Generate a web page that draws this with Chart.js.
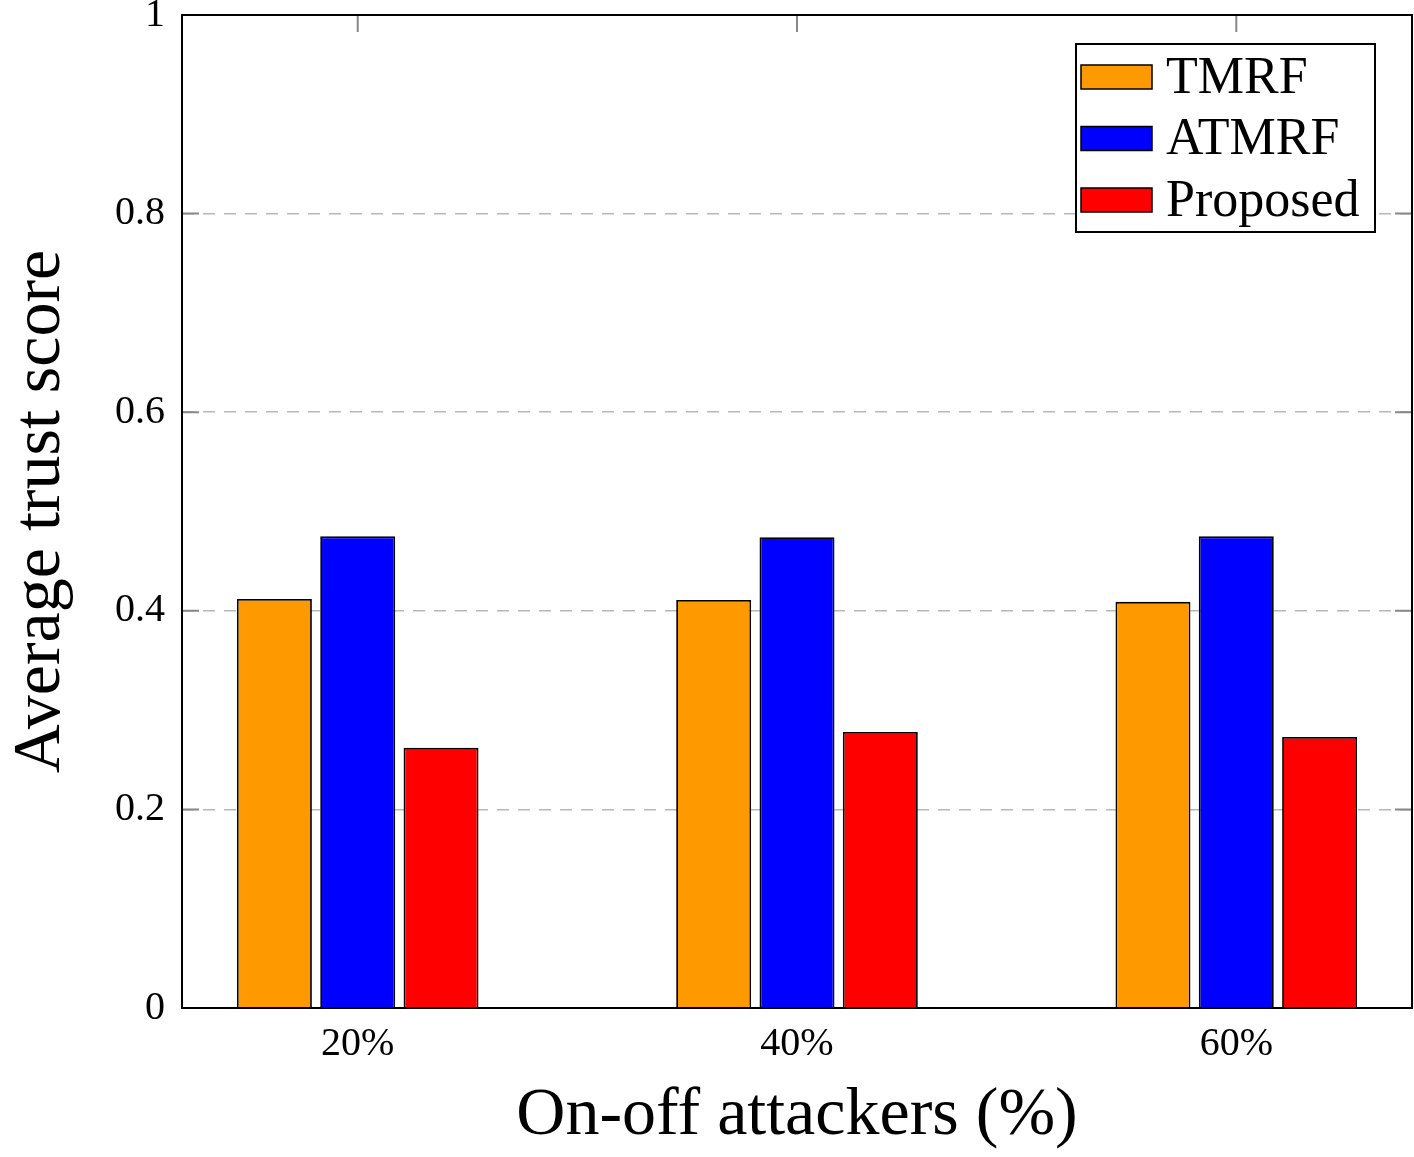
<!DOCTYPE html>
<html>
<head>
<meta charset="utf-8">
<script src="https://cdn.jsdelivr.net/npm/chart.js@4.4.1/dist/chart.umd.min.js"></script>
<style>
  html, body { margin: 0; padding: 0; background: #fff; }
  #wrap { width: 1414px; height: 1157px; }
</style>
</head>
<body>
<div id="wrap"><canvas id="c" width="1414" height="1157"></canvas></div>
<script>
// ---------- DATA ----------
const categories = ["20%", "40%", "60%"];
const tmrf = [0.412, 0.411, 0.409];
const atmrf = [0.475, 0.474, 0.475];
const proposed = [0.262, 0.278, 0.273];
const yTicks = [0, 0.2, 0.4, 0.6, 0.8, 1];

const FONT = "'Liberation Serif', 'Times New Roman', serif";
const toPoints = arr => arr.map((v, i) => ({ x: i, y: v }));

// inward tick marks on all four sides, drawn under the bars
const tickMarks = {
  id: "tickMarks",
  beforeDatasetsDraw(chart) {
    const { ctx, chartArea: a, scales: { x, y } } = chart;
    const len = 17;
    ctx.save();
    ctx.strokeStyle = "#888";
    ctx.lineWidth = 2;
    ctx.beginPath();
    categories.forEach((_, i) => {
      const px = x.getPixelForValue(i);
      ctx.moveTo(px, a.top); ctx.lineTo(px, a.top + len);
      ctx.moveTo(px, a.bottom); ctx.lineTo(px, a.bottom - len);
    });
    yTicks.forEach(v => {
      const py = y.getPixelForValue(v);
      ctx.moveTo(a.left, py); ctx.lineTo(a.left + len, py);
      ctx.moveTo(a.right, py); ctx.lineTo(a.right - len, py);
    });
    ctx.stroke();
    ctx.restore();
  }
};

// frame box + legend inside the plot, top right
const frameAndLegend = {
  id: "frameAndLegend",
  afterDatasetsDraw(chart) {
    const { ctx, chartArea: a } = chart;
    ctx.save();
    ctx.strokeStyle = "#000";
    ctx.lineWidth = 2;
    ctx.strokeRect(a.left, a.top, a.right - a.left, a.bottom - a.top);

    const boxW = 299, boxH = 188;
    const bx = a.right - 37 - boxW, by = a.top + 29;
    ctx.fillStyle = "#fff";
    ctx.fillRect(bx, by, boxW, boxH);
    ctx.lineWidth = 2;
    ctx.strokeRect(bx, by, boxW, boxH);

    ctx.font = "52px " + FONT;
    ctx.textBaseline = "middle";
    chart.data.datasets.forEach((ds, i) => {
      const cy = by + 33 + i * 61.5;
      ctx.fillStyle = ds.backgroundColor;
      ctx.fillRect(bx + 5, cy - 12, 71, 24);
      ctx.lineWidth = 1.5;
      ctx.strokeStyle = "#000";
      ctx.strokeRect(bx + 5, cy - 12, 71, 24);
      ctx.fillStyle = "#000";
      ctx.fillText(ds.label, bx + 90, cy + 2);
    });
    ctx.restore();
  }
};

const barStyle = { borderColor: "#000", borderWidth: 1.8, categoryPercentage: 0.569, barPercentage: 0.9 };

new Chart(document.getElementById("c"), {
  type: "bar",
  data: {
    datasets: [
      { label: "TMRF", data: toPoints(tmrf), backgroundColor: "#ff9900", ...barStyle },
      { label: "ATMRF", data: toPoints(atmrf), backgroundColor: "#0000ff", ...barStyle },
      { label: "Proposed", data: toPoints(proposed), backgroundColor: "#ff0000", ...barStyle }
    ]
  },
  options: {
    responsive: false,
    animation: false,
    devicePixelRatio: 1,
    layout: { padding: { top: 15, right: 2, left: 0, bottom: 0 } },
    plugins: { legend: { display: false }, tooltip: { enabled: false } },
    scales: {
      x: {
        type: "linear",
        min: -0.4,
        max: 2.4,
        offset: false,
        grid: { display: false, drawTicks: false },
        border: { display: false },
        afterBuildTicks: s => { s.ticks = categories.map((_, i) => ({ value: i })); },
        afterFit: s => { s.height = 149; s.paddingLeft = 0; s.paddingRight = 0; },
        ticks: {
          autoSkip: false,
          maxRotation: 0,
          padding: 12,
          color: "#000",
          font: { family: FONT, size: 40 },
          callback: v => categories[v]
        },
        title: {
          display: true,
          text: "On-off attackers (%)",
          color: "#000",
          font: { family: FONT, size: 68 },
          padding: { top: 0, bottom: 0 }
        }
      },
      y: {
        min: 0,
        max: 1,
        afterBuildTicks: s => { s.ticks = yTicks.map(v => ({ value: v })); },
        afterFit: s => { s.width = 182; s.paddingTop = 0; s.paddingBottom = 0; },
        grid: {
          drawTicks: false,
          color: ctx => (ctx.tick.value === 0 || ctx.tick.value === 1) ? "rgba(0,0,0,0)" : "#b8b8b8",
          lineWidth: 1.5
        },
        border: { display: false, dash: [12, 9] },
        ticks: {
          padding: 17,
          color: "#000",
          font: { family: FONT, size: 40 },
          callback: v => String(v)
        },
        title: {
          display: true,
          text: "Average trust score",
          color: "#000",
          font: { family: FONT, size: 68 },
          padding: { top: 0, bottom: 0 }
        }
      }
    }
  },
  plugins: [tickMarks, frameAndLegend]
});
</script>
</body>
</html>
